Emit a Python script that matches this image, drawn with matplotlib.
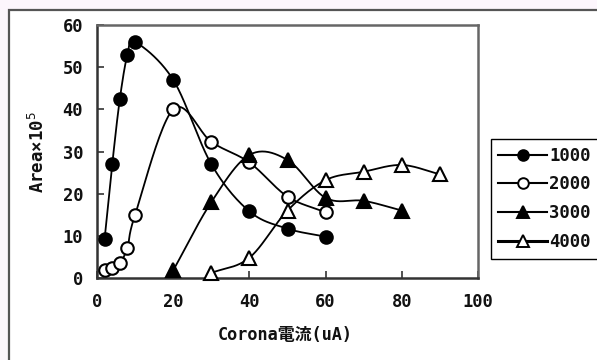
import numpy as np
import matplotlib
matplotlib.use("Agg")
import matplotlib.pyplot as plt
from matplotlib.patches import Rectangle
from matplotlib.lines import Line2D

# ---- data ----
x_1000 = [2, 4, 6, 8, 10, 20, 30, 40, 50, 60]
y_1000 = [9.3, 27, 42.5, 53, 56, 47, 27, 15.8, 11.7, 9.8]

x_2000 = [2, 4, 6, 8, 10, 20, 30, 40, 50, 60]
y_2000 = [2.0, 2.3, 3.6, 7.2, 15, 40, 32.3, 27.4, 19.3, 15.6]

x_3000 = [20, 30, 40, 50, 60, 70, 80]
y_3000 = [1.8, 18, 29.2, 28, 19, 18.3, 16]

x_4000 = [30, 40, 50, 60, 70, 80, 90]
y_4000 = [1.2, 4.8, 16, 23.2, 25.2, 26.8, 24.6]

series_labels = ["1000", "2000", "3000", "4000"]
x_ticks = [0, 20, 40, 60, 80, 100]
y_ticks = [0, 10, 20, 30, 40, 50, 60]
x_label = "Corona電流(uA)"
y_label = "Area×10$^5$"


def smooth(xs, ys, n=24):
    """Catmull-Rom curve through the points (like a spreadsheet 'smoothed line')."""
    p = np.column_stack([xs, ys]).astype(float)
    if len(p) < 3:
        return p[:, 0], p[:, 1]
    ext = np.vstack([2 * p[0] - p[1], p, 2 * p[-1] - p[-2]])
    out = []
    t = np.linspace(0, 1, n, endpoint=False)[:, None]
    for i in range(1, len(ext) - 2):
        p0, p1, p2, p3 = ext[i - 1], ext[i], ext[i + 1], ext[i + 2]
        c1 = p1 + (p2 - p0) / 6.0
        c2 = p2 - (p3 - p1) / 6.0
        seg = ((1 - t) ** 3) * p1 + 3 * ((1 - t) ** 2) * t * c1 + 3 * (1 - t) * t ** 2 * c2 + t ** 3 * p2
        out.append(seg)
    out.append(p[-1][None, :])
    out = np.vstack(out)
    return out[:, 0], out[:, 1]


W, H = 597, 360
fig = plt.figure(figsize=(W / 100, H / 100), dpi=100, facecolor="#fcf6fc")

# outer chart frame
fig.patches.append(Rectangle((8.5 / W, -0.2), 1.2, 1.2 - 9.5 / H,
                             transform=fig.transFigure, facecolor="white",
                             edgecolor="#555555", linewidth=1.6, zorder=-5))

ax = fig.add_axes([97 / W, 1 - 278 / H, (478 - 97) / W, (278 - 25) / H])
ax.set_zorder(1)
ax.set_facecolor("white")

mono = ["DejaVu Sans Mono", "Noto Sans CJK JP"]
txt_color = "#111111"

styles = [
    dict(marker="o", mfc="black", ms=9, lw=1.3),
    dict(marker="o", mfc="white", ms=9, lw=1.3),
    dict(marker="^", mfc="black", ms=10, lw=1.3),
    dict(marker="^", mfc="white", ms=10, lw=1.3),
]
data = [(x_1000, y_1000), (x_2000, y_2000), (x_3000, y_3000), (x_4000, y_4000)]

for (xs, ys), st in zip(data, styles):
    sx, sy = smooth(xs, ys)
    ax.plot(sx, sy, color="black", lw=st["lw"], zorder=2)
    ax.plot(xs, ys, linestyle="none", marker=st["marker"], ms=st["ms"],
            mfc=st["mfc"], mec="black", mew=1.5, zorder=3, clip_on=False)

ax.set_xlim(0, 100)
ax.set_ylim(0, 60)
ax.set_xticks(x_ticks)
ax.set_yticks(y_ticks)
ax.tick_params(direction="in", length=5, width=1.2, color="#333333",
               labelsize=12.3, labelcolor=txt_color)
ax.tick_params(axis="x", pad=11)
ax.tick_params(axis="y", pad=10)
for lab in ax.get_xticklabels() + ax.get_yticklabels():
    lab.set_family(mono)
    lab.set_weight("bold")

for side in ["left", "bottom"]:
    ax.spines[side].set_color("#333333")
    ax.spines[side].set_linewidth(1.8)
for side in ["top", "right"]:
    ax.spines[side].set_color("#666666")
    ax.spines[side].set_linewidth(1.8)

fig.text(285.5 / W, 1 - 335 / H, x_label, family=mono, fontsize=12.2,
         color=txt_color, ha="center", va="center", weight="bold")
fig.text(38 / W, 1 - 152 / H, y_label, family=mono, fontsize=12.5,
         color=txt_color, ha="center", va="center", rotation=90, weight="bold")

# legend
handles = []
for st, lab in zip(styles, series_labels):
    handles.append(Line2D([], [], color="black", lw=1.5 if lab != "4000" else 2.2,
                          marker=st["marker"], ms=st["ms"] * 0.85, mfc=st["mfc"],
                          mec="black", mew=1.4, label=lab))
leg = fig.legend(handles=handles, loc="upper left",
                 bbox_to_anchor=(490.7 / W, 1 - 139 / H),
                 frameon=True, fancybox=False, edgecolor="black",
                 prop=dict(family=mono, size=12.4, weight="bold"), labelcolor=txt_color,
                 handlelength=2.8, handletextpad=0.15, labelspacing=0.62,
                 borderpad=0.45, borderaxespad=0, framealpha=1)
leg.get_frame().set_linewidth(1.0)

fig.savefig("out.png", dpi=100, facecolor=fig.get_facecolor())
